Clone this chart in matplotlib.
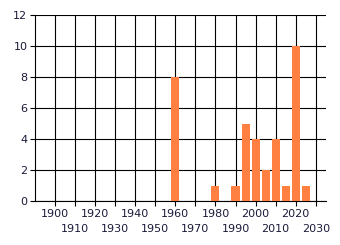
import matplotlib
matplotlib.use("Agg")
import matplotlib.pyplot as plt

years = [1960, 1980, 1990, 1995, 2000, 2005, 2010, 2015, 2020, 2025]
counts = [8, 1, 1, 5, 4, 2, 4, 1, 10, 1]
upper_ticks = [1900, 1920, 1940, 1960, 1980, 2000, 2020]
lower_ticks = [1910, 1930, 1950, 1970, 1990, 2010, 2030]
y_ticks = [0, 2, 4, 6, 8, 10, 12]

bar_colour = "#ff8040"
text_colour = "#1a1a3a"

fig = plt.figure(figsize=(3.4, 2.45), dpi=100)
ax = fig.add_axes([0.103, 0.178, 0.855, 0.76])

ax.bar(years, counts, width=4, color=bar_colour, zorder=3)

ax.set_xlim(1890, 2035)
ax.set_ylim(0, 12)
ax.set_yticks(y_ticks)
# staggered labels: odd decades on minor ticks, pushed to a second row
ax.set_xticks(upper_ticks)
ax.set_xticklabels([str(y) for y in upper_ticks])
ax.set_xticks(lower_ticks, minor=True)
ax.set_xticklabels([str(y) for y in lower_ticks], minor=True)

ax.grid(True, which="both", axis="x", color="black", linewidth=0.8, zorder=0)
ax.grid(True, axis="y", color="black", linewidth=0.8, zorder=0)
for s in ["top", "right"]:
    ax.spines[s].set_visible(False)
for s in ["left", "bottom"]:
    ax.spines[s].set_linewidth(0.8)

ax.tick_params(axis="both", which="both", length=3.5, width=0.8, labelsize=8,
               labelcolor=text_colour, pad=2)
ax.tick_params(axis="x", which="minor", pad=13)

fig.savefig("out.png", dpi=100)
